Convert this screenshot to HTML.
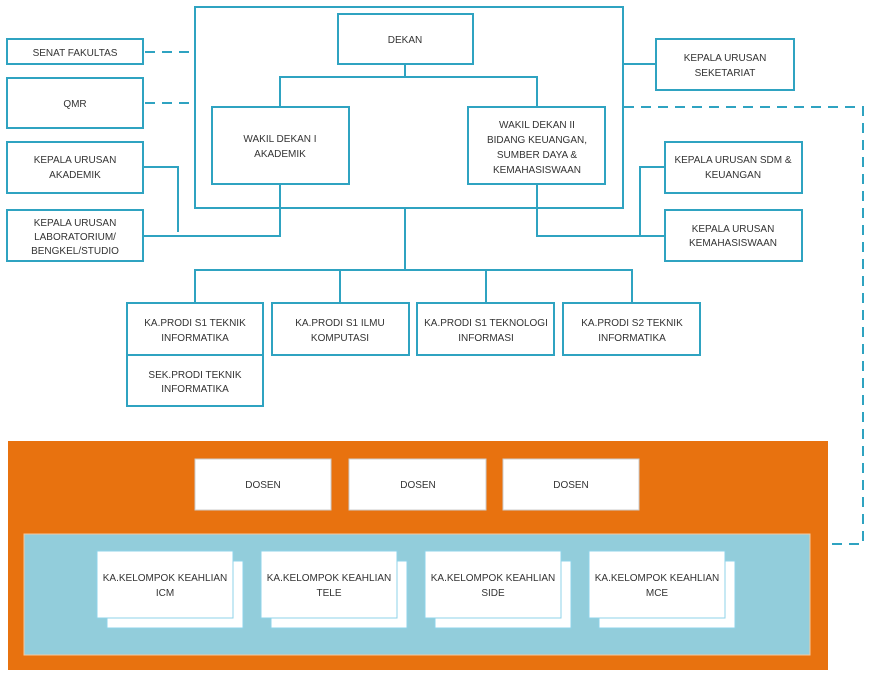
<!DOCTYPE html>
<html><head><meta charset="utf-8"><style>body{margin:0;background:#fff}svg{display:block}text{font-family:"Liberation Sans",sans-serif;font-size:10px;fill:#333;text-anchor:middle}</style></head><body>
<svg width="874" height="681" viewBox="0 0 874 681" xmlns="http://www.w3.org/2000/svg">
<g fill="none" stroke="#2fa3c1" stroke-width="2">
<rect x="195" y="7" width="428" height="201"/>
<rect x="338" y="14" width="135" height="50" fill="#fff"/>
<polyline points="405,64 405,77"/><polyline points="280,107 280,77 537,77 537,107"/>
<rect x="212" y="107" width="137" height="77"/>
<rect x="468" y="107" width="137" height="77"/>
<rect x="7" y="39" width="136" height="25"/>
<rect x="7" y="78" width="136" height="50"/>
<rect x="7" y="142" width="136" height="51"/>
<rect x="7" y="210" width="136" height="51"/>
<line x1="145" y1="52" x2="195" y2="52" stroke-dasharray="10,7"/>
<line x1="145" y1="103" x2="195" y2="103" stroke-dasharray="10,7"/>
<polyline points="143,167 178,167 178,232"/>
<polyline points="143,236 280,236 280,184"/>
<rect x="656" y="39" width="138" height="51"/>
<line x1="623" y1="64" x2="656" y2="64"/>
<rect x="665" y="142" width="137" height="51"/>
<rect x="665" y="210" width="137" height="51"/>
<polyline points="537,184 537,236 665,236"/>
<polyline points="665,167 640,167 640,236"/>
<polyline points="624,107 863,107 863,544 830,544" stroke-dasharray="10,7"/>
<polyline points="405,208 405,270"/>
<polyline points="195,303 195,270 632,270 632,303"/>
<line x1="340" y1="270" x2="340" y2="303"/><line x1="486" y1="270" x2="486" y2="303"/>
<rect x="127" y="303" width="136" height="52"/>
<rect x="127" y="355" width="136" height="51"/>
<rect x="272" y="303" width="137" height="52"/>
<rect x="417" y="303" width="137" height="52"/>
<rect x="563" y="303" width="137" height="52"/>
</g>
<rect x="8" y="441" width="820" height="229" fill="#e8720f"/>
<rect x="24" y="534" width="786" height="121" fill="#92cddb" stroke="#f3c9a0" stroke-width="1"/>
<g fill="#fff" stroke="#ccc" stroke-width="1">
<rect x="195" y="459" width="136" height="51"/><rect x="349" y="459" width="137" height="51"/><rect x="503" y="459" width="136" height="51"/>
</g>
<g fill="#fff" stroke="#8fd3e8" stroke-width="1">
<rect x="107" y="561" width="136" height="67"/><rect x="97" y="551" width="136" height="67"/>
<rect x="271" y="561" width="136" height="67"/><rect x="261" y="551" width="136" height="67"/>
<rect x="435" y="561" width="136" height="67"/><rect x="425" y="551" width="136" height="67"/>
<rect x="599" y="561" width="136" height="67"/><rect x="589" y="551" width="136" height="67"/>
</g>
<text x="405" y="43">DEKAN</text>
<text x="75" y="56">SENAT FAKULTAS</text>
<text x="75" y="107">QMR</text>
<text x="75" y="163">KEPALA URUSAN</text><text x="75" y="178">AKADEMIK</text>
<text x="75" y="226">KEPALA URUSAN</text><text x="75" y="240">LABORATORIUM/</text><text x="75" y="254">BENGKEL/STUDIO</text>
<text x="280" y="142">WAKIL DEKAN I</text><text x="280" y="157">AKADEMIK</text>
<text x="537" y="128">WAKIL DEKAN II</text><text x="537" y="143">BIDANG KEUANGAN,</text><text x="537" y="158">SUMBER DAYA &amp;</text><text x="537" y="173">KEMAHASISWAAN</text>
<text x="725" y="61">KEPALA URUSAN</text><text x="725" y="76">SEKETARIAT</text>
<text x="733" y="163">KEPALA URUSAN SDM &amp;</text><text x="733" y="178">KEUANGAN</text>
<text x="733" y="232">KEPALA URUSAN</text><text x="733" y="246">KEMAHASISWAAN</text>
<text x="195" y="326">KA.PRODI S1 TEKNIK</text><text x="195" y="341">INFORMATIKA</text>
<text x="195" y="378">SEK.PRODI TEKNIK</text><text x="195" y="392">INFORMATIKA</text>
<text x="340" y="326">KA.PRODI S1 ILMU</text><text x="340" y="341">KOMPUTASI</text>
<text x="486" y="326">KA.PRODI S1 TEKNOLOGI</text><text x="486" y="341">INFORMASI</text>
<text x="632" y="326">KA.PRODI S2 TEKNIK</text><text x="632" y="341">INFORMATIKA</text>
<text x="263" y="488">DOSEN</text><text x="418" y="488">DOSEN</text><text x="571" y="488">DOSEN</text>
<text x="165" y="581">KA.KELOMPOK KEAHLIAN</text><text x="165" y="596">ICM</text>
<text x="329" y="581">KA.KELOMPOK KEAHLIAN</text><text x="329" y="596">TELE</text>
<text x="493" y="581">KA.KELOMPOK KEAHLIAN</text><text x="493" y="596">SIDE</text>
<text x="657" y="581">KA.KELOMPOK KEAHLIAN</text><text x="657" y="596">MCE</text>
</svg>
</body></html>
